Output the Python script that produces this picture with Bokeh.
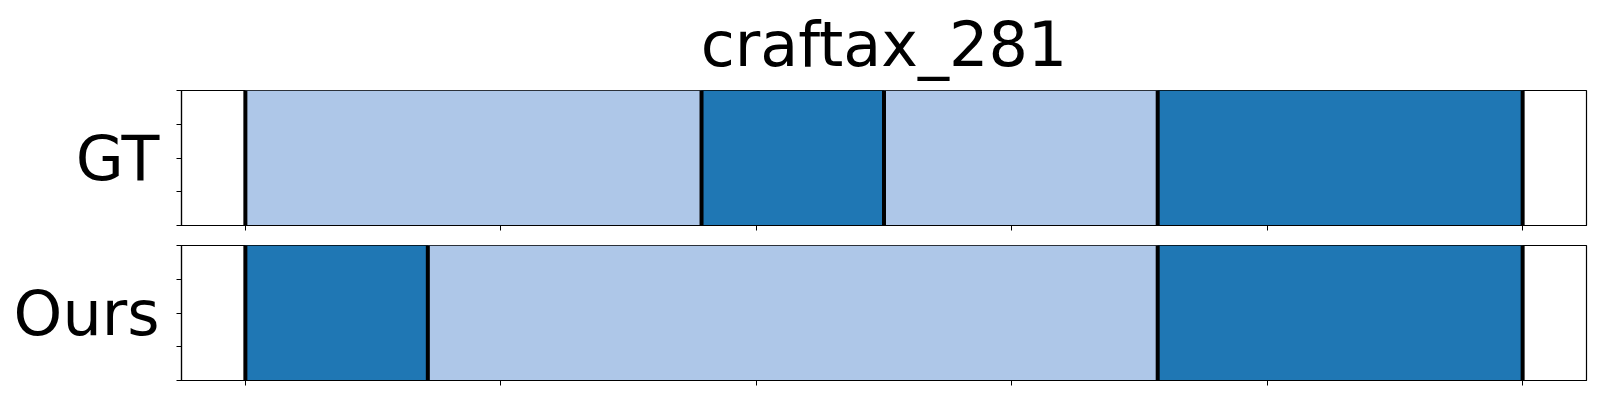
from bokeh.plotting import figure
from bokeh.layouts import column
from bokeh.models import FixedTicker, Range1d, ColumnDataSource
from bokeh.embed import file_html
from bokeh.resources import INLINE

# ---- data ----
title_text = "craftax_281"
row_names = ["GT", "Ours"]
n_steps = 14
gt_bounds = [0, 5, 7, 10, 14]
gt_classes = [0, 1, 0, 1]
ours_bounds = [0, 2, 10, 14]
ours_classes = [1, 0, 1]
class_colors = ["#aec7e8", "#1f77b4"]
x_ticks = [0, 0.2, 0.4, 0.6, 0.8, 1.0]
y_ticks = [0, 0.25, 0.5, 0.75, 1.0]

FONT = "DejaVu Sans"


def make_panel(name, bounds, classes, height, top_border, bottom_border, title=None):
    p = figure(width=1592, height=height, output_backend="svg", toolbar_location=None,
               x_range=Range1d(-0.05, 1.05), y_range=Range1d(0, 1),
               min_border_left=181, min_border_right=6,
               min_border_top=top_border, min_border_bottom=bottom_border)
    if title:
        p.title.text = title
        p.title.text_font = FONT
        p.title.text_font_size = "62px"
        p.title.text_font_style = "normal"
        p.title.align = "center"
        p.title.vertical_align = "top"
        p.title.text_color = "black"
        p.title.standoff = 15
    left = [b / n_steps for b in bounds[:-1]]
    right = [b / n_steps for b in bounds[1:]]
    colors = [class_colors[c] for c in classes]
    src = ColumnDataSource(dict(left=left, right=right, color=colors))
    p.quad(left="left", right="right", bottom=0, top=1, fill_color="color",
           line_color=None, source=src)
    xs = [b / n_steps for b in bounds]
    p.segment(x0=xs, x1=xs, y0=[0] * len(xs), y1=[1] * len(xs),
              line_color="black", line_width=4)
    p.grid.visible = False
    p.outline_line_color = "black"
    p.outline_line_width = 1.2
    p.outline_line_alpha = 1
    p.background_fill_color = "white"
    p.border_fill_color = "white"

    p.xaxis.ticker = FixedTicker(ticks=x_ticks)
    p.xaxis.major_label_overrides = {t: "" for t in x_ticks}
    p.xaxis.major_label_text_font_size = "1px"
    p.xaxis.major_label_standoff = 0
    p.yaxis.ticker = FixedTicker(ticks=y_ticks)
    p.yaxis.major_label_overrides = {t: (name if t == 0.5 else "") for t in y_ticks}
    p.yaxis.major_label_text_font = FONT
    p.yaxis.major_label_text_font_size = "62px"
    p.yaxis.major_label_text_color = "black"
    p.yaxis.major_label_standoff = 17
    for ax in (p.xaxis, p.yaxis):
        ax.major_tick_out = 5
        ax.major_tick_in = 0
        ax.minor_tick_out = 0
        ax.minor_tick_in = 0
        ax.major_tick_line_color = "black"
        ax.major_tick_line_width = 1
        ax.axis_line_color = "black"
        ax.axis_line_width = 1.2
    return p


p1 = make_panel(row_names[0], gt_bounds, gt_classes, 237, 90, 12, title=title_text)
p2 = make_panel(row_names[1], ours_bounds, ours_classes, 155, 8, 12)

layout = column(p1, p2)
open("out.html", "w").write(file_html(layout, INLINE))
